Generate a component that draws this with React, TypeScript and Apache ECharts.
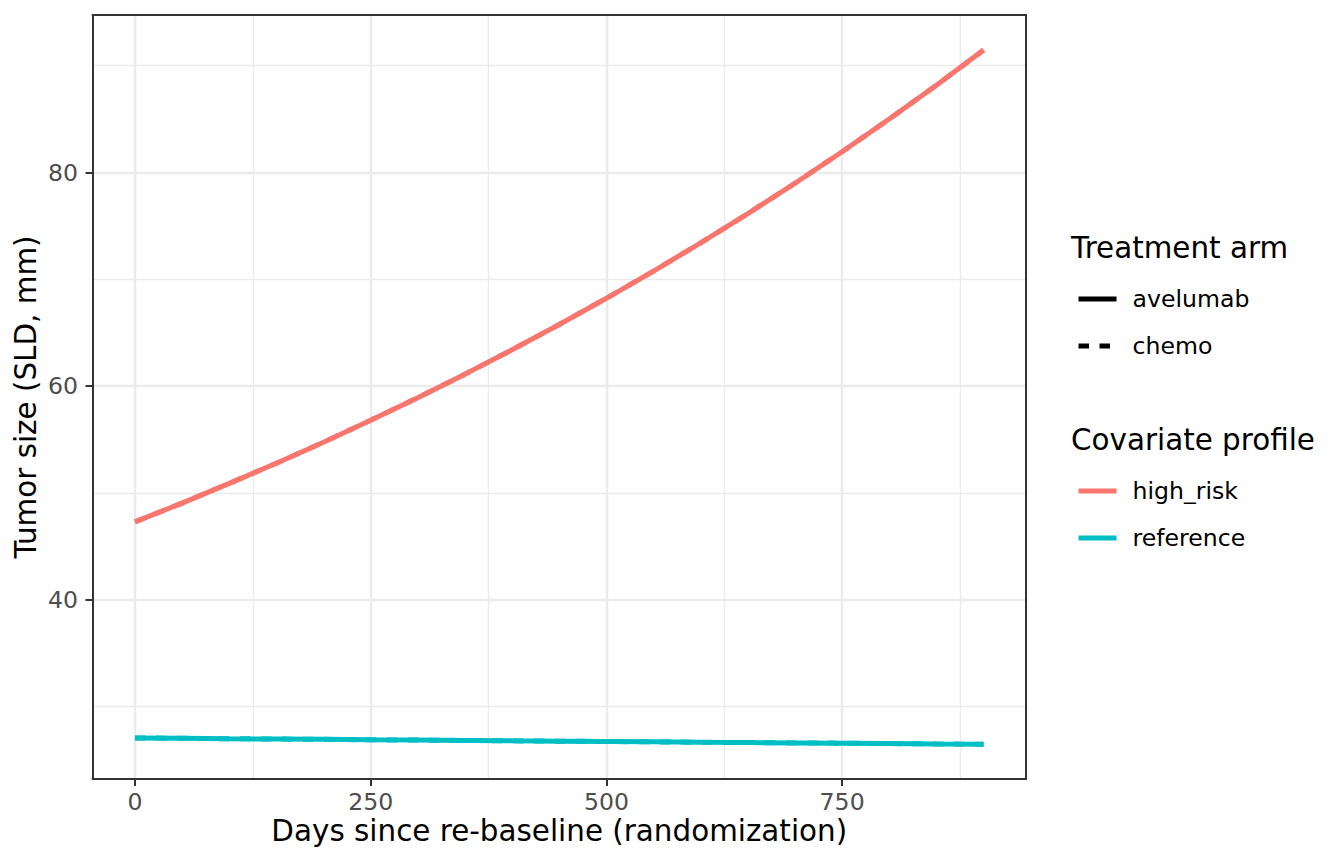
import { useEffect, useRef } from "react";
import * as echarts from "echarts";

const FONT = "DejaVu Sans";

const days = [0, 50, 100, 150, 200, 250, 300, 350, 400, 450, 500, 550, 600, 650, 700, 750, 800, 850, 900];
const highRisk = [47.3, 49.06, 50.9, 52.79, 54.76, 56.81, 58.93, 61.13, 63.41, 65.78, 68.23, 70.78, 73.42, 76.16, 79.0, 81.95, 85.01, 88.18, 91.47];
const reference = [27.07, 27.04, 27.0, 26.97, 26.94, 26.9, 26.87, 26.84, 26.8, 26.77, 26.74, 26.71, 26.67, 26.64, 26.61, 26.58, 26.55, 26.51, 26.48];

const xTicks = [0, 250, 500, 750];
const xMinor = [125, 375, 625, 875];
const yTicks = [40, 60, 80];
const yMinor = [30, 50, 70, 90];

const arms = ["avelumab", "chemo"];
const armDash: (number[] | "solid")[] = ["solid", [10.5, 10.5]];
const profiles = ["high_risk", "reference"];
const profileColors = ["#F8766D", "#00BFC4"];
const profileValues = [highRisk, reference];

function App() {
  const chartRef = useRef<HTMLDivElement>(null);

  useEffect(() => {
    if (!chartRef.current) return;
    document.body.style.margin = "0";
    const chart = echarts.init(chartRef.current, null, { renderer: "svg" });

    const gridLines = [
      ...xMinor.map((v) => ({ xAxis: v, lineStyle: { width: 1.3, color: "#EBEBEB", type: "solid" } })),
      ...yMinor.map((v) => ({ yAxis: v, lineStyle: { width: 1.3, color: "#EBEBEB", type: "solid" } })),
      ...xTicks.map((v) => ({ xAxis: v, lineStyle: { width: 2.4, color: "#EBEBEB", type: "solid" } })),
      ...yTicks.map((v) => ({ yAxis: v, lineStyle: { width: 2.4, color: "#EBEBEB", type: "solid" } })),
    ];

    const dataSeries: any[] = [];
    profiles.forEach((p, i) => {
      arms.forEach((a, j) => {
        dataSeries.push({
          name: p,
          type: "line",
          symbol: "none",
          showSymbol: false,
          z: 2 + j,
          color: profileColors[i],
          lineStyle: { width: 5, color: profileColors[i], type: armDash[j] },
          data: days.map((d, k) => [d, profileValues[i][k]]),
        });
      });
    });

    const armSeries = arms.map((a, j) => ({
      name: a,
      type: "line",
      symbol: "none",
      color: "#000",
      lineStyle: { width: 5, color: "#000", type: armDash[j] },
      data: [],
    }));

    const legendBase = {
      orient: "vertical",
      left: 1076,
      itemWidth: 38,
      itemHeight: 23.5,
      itemGap: 23,
      padding: 0,
      selectedMode: false,
      itemStyle: { opacity: 0 },
      lineStyle: { width: "inherit", opacity: 1 },
      textStyle: { fontSize: 23.6, color: "#000", fontFamily: FONT, padding: [0, 0, 0, 11] },
    };

    const titleStyle = { fontSize: 29.4, fontWeight: "normal", color: "#000", fontFamily: FONT };

    chart.setOption({
      animation: false,
      textStyle: { fontFamily: FONT },
      title: [
        { text: "Treatment arm", left: 1066, top: 228, textStyle: titleStyle },
        { text: "Covariate profile", left: 1066, top: 420, textStyle: titleStyle },
      ],
      legend: [
        { ...legendBase, top: 287, data: arms },
        { ...legendBase, top: 479, data: profiles },
      ],
      grid: { left: 92.5, right: 318, top: 15, bottom: 85, containLabel: false },
      xAxis: [
        {
          type: "value",
          min: -45,
          max: 945,
          z: 4,
          name: "Days since re-baseline (randomization)",
          nameLocation: "middle",
          nameGap: 37.5,
          nameMoveOverlap: false,
          nameTextStyle: { fontSize: 29.4, color: "#000", fontFamily: FONT },
          axisLine: { show: true, onZero: false, lineStyle: { color: "#333333", width: 2 } },
          axisTick: { show: true, customValues: xTicks, length: 7, lineStyle: { color: "#333333", width: 2 } },
          axisLabel: { customValues: xTicks, margin: 11, fontSize: 23.6, color: "#4D4D4D", fontFamily: FONT },
          splitLine: { show: false },
        },
        {
          type: "value",
          position: "top",
          min: -45,
          max: 945,
          z: 4,
          axisLine: { show: true, onZero: false, lineStyle: { color: "#333333", width: 2 } },
          axisTick: { show: false },
          axisLabel: { show: false },
          splitLine: { show: false },
        },
      ],
      yAxis: [
        {
          type: "value",
          min: 23.23,
          max: 94.75,
          z: 4,
          name: "Tumor size (SLD, mm)",
          nameLocation: "middle",
          nameGap: 52,
          nameMoveOverlap: false,
          nameTextStyle: { fontSize: 29.4, color: "#000", fontFamily: FONT },
          axisLine: { show: true, onZero: false, lineStyle: { color: "#333333", width: 2 } },
          axisTick: { show: true, customValues: yTicks, length: 7, lineStyle: { color: "#333333", width: 2 } },
          axisLabel: { customValues: yTicks, margin: 14.5, fontSize: 23.6, color: "#4D4D4D", fontFamily: FONT },
          splitLine: { show: false },
        },
        {
          type: "value",
          position: "right",
          min: 23.23,
          max: 94.75,
          z: 4,
          axisLine: { show: true, onZero: false, lineStyle: { color: "#333333", width: 2 } },
          axisTick: { show: false },
          axisLabel: { show: false },
          splitLine: { show: false },
        },
      ],
      series: [
        {
          type: "line",
          data: [],
          silent: true,
          markLine: {
            silent: true,
            symbol: ["none", "none"],
            z: 1,
            label: { show: false },
            emphasis: { disabled: true },
            data: gridLines,
          },
        },
        ...armSeries,
        ...dataSeries,
      ],
    });

    return () => {
      chart.dispose();
    };
  }, []);

  return <div ref={chartRef} style={{ width: "1344px", height: "864px" }} />;
}

export default App;
